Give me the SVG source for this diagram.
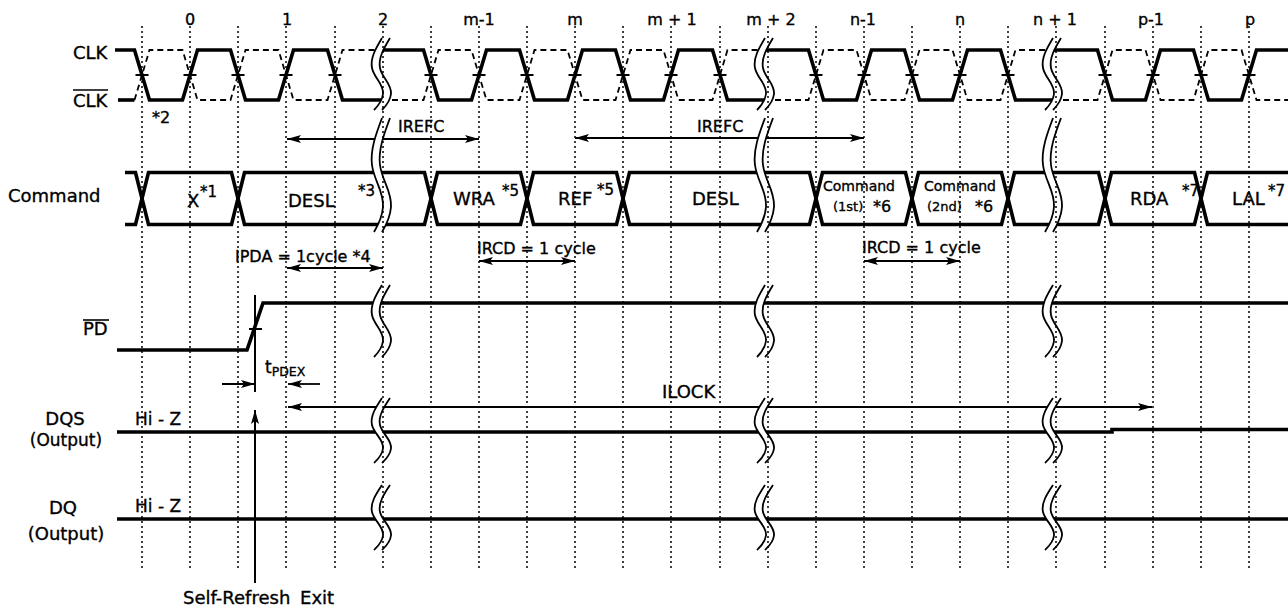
<svg xmlns="http://www.w3.org/2000/svg" width="1288" height="612" viewBox="0 0 1288 612">
<style>
text { font-family: "DejaVu Sans", "Liberation Sans", sans-serif; fill: #000; stroke: #000; stroke-width: 0.35; }
.l { font-size: 18px; }
.n { font-size: 16px; text-anchor: middle; }
.s { font-size: 15px; }
.m { font-size: 14px; }
.w { fill: none; stroke: #000; stroke-width: 3.6; stroke-linejoin: miter; }
.d { fill: none; stroke: #000; stroke-width: 1.8; stroke-dasharray: 6 4; }
.g { fill: none; stroke: #000; stroke-width: 1.5; stroke-dasharray: 2 3; }
.a { fill: none; stroke: #000; stroke-width: 1.8; }
.t { fill: none; stroke: #000; stroke-width: 2; }
.bc { fill: none; stroke: #000; stroke-width: 1.8; }
.bw { fill: none; stroke: #fff; stroke-width: 7; }
</style>
<defs>
<marker id="ah" viewBox="0 0 14 8" refX="14" refY="4" markerWidth="14" markerHeight="8" markerUnits="userSpaceOnUse" orient="auto-start-reverse"><path d="M0,0 L14,4 L0,8 L3,4 Z" fill="#000"/></marker>
<path id="bp72" d="M4,0 C-2,10 -8,20 -6,30 C-4,40 6,46 5,56 C4,64 -1,69 -4,72"/>
<path id="bp114" d="M4,0 C-2,16 -8,32 -6,47 C-4,63 6,73 5,89 C4,101 -1,109 -4,114"/>
<path id="bp65" d="M4,0 C-2,9 -8,18 -6,27 C-4,36 6,41.5 5,50.5 C4,58 -1,62 -4,65"/>
<g id="brk72"><use href="#bp72" class="bw"/><use href="#bp72" class="bc" x="-4"/><use href="#bp72" class="bc" x="4"/></g>
<g id="brk114"><use href="#bp114" class="bw"/><use href="#bp114" class="bc" x="-4"/><use href="#bp114" class="bc" x="4"/></g>
<g id="brk65"><use href="#bp65" class="bw"/><use href="#bp65" class="bc" x="-4"/><use href="#bp65" class="bc" x="4"/></g>
</defs>
<rect width="1288" height="612" fill="#fff"/>

<g id="clock-numbers">
<text class="n" x="190" y="25">0</text>
<text class="n" x="287" y="25">1</text>
<text class="n" x="383" y="25">2</text>
<text class="n" x="479" y="25">m-1</text>
<text class="n" x="575" y="25">m</text>
<text class="n" x="672" y="25">m + 1</text>
<text class="n" x="771" y="25">m + 2</text>
<text class="n" x="863" y="25">n-1</text>
<text class="n" x="960" y="25">n</text>
<text class="n" x="1055" y="25">n + 1</text>
<text class="n" x="1151" y="25">p-1</text>
<text class="n" x="1250" y="25">p</text>
</g>

<g id="labels">
<text class="l" x="73" y="59">CLK</text>
<text class="l" x="73" y="107">CLK</text>
<line x1="73" y1="90" x2="108" y2="90" stroke="#000" stroke-width="1.6"/>
<text class="l" x="8" y="202">Command</text>
<text class="l" x="83" y="335">PD</text>
<line x1="83" y1="320" x2="109" y2="320" stroke="#000" stroke-width="1.6"/>
<text class="l" x="65" y="425" text-anchor="middle">DQS</text>
<text x="66" y="446" text-anchor="middle" style="font-size:17px">(Output)</text>
<text class="l" x="63" y="514" text-anchor="middle">DQ</text>
<text class="l" x="66" y="540" text-anchor="middle">(Output)</text>
</g>

<g id="clk">
<path class="w" d="M115,50 H134.5 L149.5,100 H182.5 L197.5,50 H230.5 L245.5,100 H278.5 L293.5,50 H327.5 L342.5,100 H382"/>
<path class="w" d="M382,50 H423.5 L438.5,100 H471.5 L486.5,50 H519.5 L534.5,100 H567.5 L582.5,50 H615.5 L630.5,100 H663.5 L678.5,50 H712.5 L727.5,100 H765"/>
<path class="w" d="M765,50 H808.5 L823.5,100 H856.5 L871.5,50 H904.5 L919.5,100 H952.5 L967.5,50 H1000.5 L1015.5,100 H1053"/>
<path class="w" d="M1053,50 H1097.5 L1112.5,100 H1145.5 L1160.5,50 H1193.5 L1208.5,100 H1241.5 L1256.5,50 H1290"/>
<path class="w" d="M118,100 H134.5"/>
<path class="d" d="M134.5,100 L149.5,50 H182.5 L197.5,100 H230.5 L245.5,50 H278.5 L293.5,100 H327.5 L342.5,50 H382"/>
<path class="d" d="M382,100 H423.5 L438.5,50 H471.5 L486.5,100 H519.5 L534.5,50 H567.5 L582.5,100 H615.5 L630.5,50 H663.5 L678.5,100 H712.5 L727.5,50 H765"/>
<path class="d" d="M765,100 H808.5 L823.5,50 H856.5 L871.5,100 H904.5 L919.5,50 H952.5 L967.5,100 H1000.5 L1015.5,50 H1053"/>
<path class="d" d="M1053,100 H1097.5 L1112.5,50 H1145.5 L1160.5,100 H1193.5 L1208.5,50 H1241.5 L1256.5,100 H1290"/>
<path class="t" d="M135.5,75 H148.5 M183.5,75 H196.5 M231.5,75 H244.5 M279.5,75 H292.5 M328.5,75 H341.5 M424.5,75 H437.5 M472.5,75 H485.5 M520.5,75 H533.5 M568.5,75 H581.5 M616.5,75 H629.5 M664.5,75 H677.5 M713.5,75 H726.5 M809.5,75 H822.5 M857.5,75 H870.5 M905.5,75 H918.5 M953.5,75 H966.5 M1001.5,75 H1014.5 M1098.5,75 H1111.5 M1146.5,75 H1159.5 M1194.5,75 H1207.5 M1242.5,75 H1255.5"/>
<text x="152" y="123" style="font-size:16px">*2</text>
</g>

<g id="command">
<path class="w" d="M125,172.5 H135.5 L142,198.5 L135.5,224.5 H125"/>
<path class="w" d="M142,198.5 L148.5,172.5 H231.5 L238,198.5 L231.5,224.5 H148.5 Z"/>
<path class="w" d="M238,198.5 L244.5,172.5 H424.5 L431,198.5 L424.5,224.5 H244.5 Z"/>
<path class="w" d="M431,198.5 L437.5,172.5 H520.5 L527,198.5 L520.5,224.5 H437.5 Z"/>
<path class="w" d="M527,198.5 L533.5,172.5 H616.5 L623,198.5 L616.5,224.5 H533.5 Z"/>
<path class="w" d="M623,198.5 L629.5,172.5 H809.5 L816,198.5 L809.5,224.5 H629.5 Z"/>
<path class="w" d="M816,198.5 L822.5,172.5 H905.5 L912,198.5 L905.5,224.5 H822.5 Z"/>
<path class="w" d="M912,198.5 L918.5,172.5 H1001.5 L1008,198.5 L1001.5,224.5 H918.5 Z"/>
<path class="w" d="M1008,198.5 L1014.5,172.5 H1098.5 L1105,198.5 L1098.5,224.5 H1014.5 Z"/>
<path class="w" d="M1105,198.5 L1111.5,172.5 H1194.5 L1201,198.5 L1194.5,224.5 H1111.5 Z"/>
<path class="w" d="M1290,172.5 H1207.5 L1201,198.5 L1207.5,224.5 H1290"/>
<text class="l" x="187" y="207">X</text><text class="s" x="200" y="197">*1</text>
<text class="l" x="288" y="207">DESL</text><text class="s" x="358" y="196">*3</text>
<text class="l" x="453" y="205">WRA</text><text class="s" x="502" y="196">*5</text>
<text class="l" x="558" y="205">REF</text><text class="s" x="597" y="195">*5</text>
<text class="l" x="692" y="205">DESL</text>
<text class="m" x="859" y="191" text-anchor="middle">Command</text>
<text x="833" y="211" style="font-size:13px">(1st)</text><text x="873" y="212" style="font-size:16px">*6</text>
<text class="m" x="960" y="191" text-anchor="middle">Command</text>
<text x="927" y="211" style="font-size:13px">(2nd)</text><text x="975" y="212" style="font-size:16px">*6</text>
<text class="l" x="1130" y="205">RDA</text><text class="s" x="1182" y="196">*7</text>
<text class="l" x="1232" y="205">LAL</text><text class="s" x="1268" y="196">*7</text>
</g>

<g id="pd">
<path class="w" d="M117,350 H247 L263,303 H1290"/>
<path class="t" d="M249,329 H262 M255,295 V392"/>
</g>

<g id="dqs">
<path class="w" d="M117,432 H1112 V429.5 H1290"/>
<text x="135" y="425" style="font-size:17px">Hi - Z</text>
</g>

<g id="dq">
<path class="w" d="M117,519 H1290"/>
<text x="135" y="512" style="font-size:17px">Hi - Z</text>
</g>

<g id="connectors">
<line class="a" x1="287" y1="139" x2="479" y2="139" marker-start="url(#ah)" marker-end="url(#ah)"/>
<line class="a" x1="575" y1="138" x2="864" y2="138" marker-start="url(#ah)" marker-end="url(#ah)"/>
<line class="a" x1="287" y1="268" x2="383" y2="268" marker-start="url(#ah)" marker-end="url(#ah)"/>
<line class="a" x1="479" y1="261" x2="575" y2="261" marker-start="url(#ah)" marker-end="url(#ah)"/>
<line class="a" x1="864" y1="261" x2="960" y2="261" marker-start="url(#ah)" marker-end="url(#ah)"/>
<line class="a" x1="222" y1="384" x2="255" y2="384" marker-end="url(#ah)"/>
<line class="a" x1="320" y1="384" x2="288" y2="384" marker-end="url(#ah)"/>
<line class="a" x1="288" y1="407" x2="1152" y2="407" marker-start="url(#ah)" marker-end="url(#ah)"/>
<line class="t" x1="255" y1="583" x2="255" y2="410" marker-end="url(#ah)"/>
</g>

<g id="annotations">
<text x="398" y="132" style="font-size:16px">IREFC</text>
<text x="697" y="132" style="font-size:16px">IREFC</text>
<text x="235" y="262" style="font-size:16px">IPDA = 1cycle *4</text>
<text x="477" y="254" style="font-size:16px">IRCD = 1 cycle</text>
<text x="862" y="253" style="font-size:16px">IRCD = 1 cycle</text>
<text x="265" y="373" style="font-size:17px">t<tspan dy="3" style="font-size:12.5px">PDEX</tspan></text>
<text class="l" x="662" y="398">ILOCK</text>
<text class="l" x="183" y="604" style="word-spacing:4px">Self-Refresh Exit</text>
</g>

<g id="breaks">
<use href="#brk72" x="382" y="38"/>
<use href="#brk72" x="765" y="38"/>
<use href="#brk72" x="1053" y="38"/>
<use href="#brk114" x="382" y="118"/>
<use href="#brk114" x="765" y="118"/>
<use href="#brk114" x="1053" y="118"/>
<use href="#brk72" x="382" y="285"/>
<use href="#brk72" x="765" y="285"/>
<use href="#brk72" x="1053" y="285"/>
<use href="#brk65" x="382" y="398"/>
<use href="#brk65" x="765" y="398"/>
<use href="#brk65" x="1053" y="398"/>
<use href="#brk65" x="382" y="485"/>
<use href="#brk65" x="765" y="485"/>
<use href="#brk65" x="1053" y="485"/>
</g>

<g id="grid">
<path class="g" d="M142,26 V568 M190,26 V568 M238,26 V568 M286,26 V568 M335,26 V568 M383,26 V568 M431,26 V568 M479,26 V568 M527,26 V568 M575,26 V568 M623,26 V568 M671,26 V568 M720,26 V568 M768,26 V568 M816,26 V568 M864,26 V568 M912,26 V568 M960,26 V568 M1008,26 V568 M1056,26 V568 M1105,26 V568 M1153,26 V568 M1201,26 V568 M1249,26 V568"/>
</g>
</svg>
